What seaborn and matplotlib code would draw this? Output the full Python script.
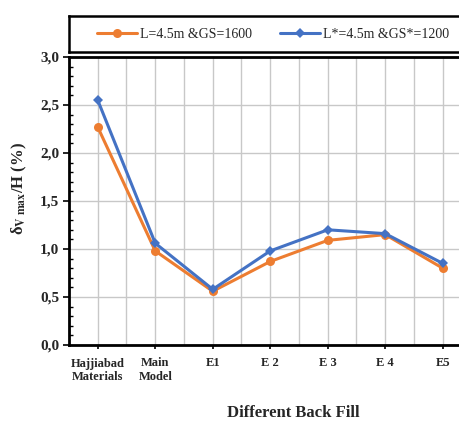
import matplotlib
matplotlib.use("Agg")
import matplotlib.pyplot as plt
from matplotlib.ticker import FuncFormatter, MultipleLocator
import numpy as np
import pandas as pd
import seaborn as sns

# chart data
categories = ["Hajjiabad\nMaterials", "Main\nModel", "E1", "E 2", "E 3", "E 4", "E5"]
series_names = ["L=4.5m &GS=1600", "L*=4.5m &GS*=1200"]
orange_values = [2.27, 0.98, 0.56, 0.87, 1.09, 1.15, 0.80]
blue_values = [2.55, 1.06, 0.58, 0.98, 1.20, 1.16, 0.85]

ORANGE = "#ED7D31"
BLUE = "#4472C4"

positions = np.arange(len(categories))
plot_df = pd.concat(
    [
        pd.DataFrame({"pos": positions, "value": orange_values, "series": series_names[0]}),
        pd.DataFrame({"pos": positions, "value": blue_values, "series": series_names[1]}),
    ],
    ignore_index=True,
)

sns.set_theme(style="white")
plt.rcParams["font.family"] = ["Liberation Serif", "DejaVu Serif"]
plt.rcParams["mathtext.fontset"] = "stix"

fig = plt.figure(figsize=(4.6, 4.22), dpi=100)
ax = fig.add_axes([69 / 460, 1 - 345 / 422, 402.5 / 460, 288 / 422])

sns.lineplot(
    data=plot_df,
    x="pos",
    y="value",
    hue="series",
    style="series",
    markers={series_names[0]: "o", series_names[1]: "D"},
    dashes=False,
    palette={series_names[0]: ORANGE, series_names[1]: BLUE},
    linewidth=2.2,
    markersize=6.5,
    markeredgewidth=0,
    ax=ax,
    legend=False,
)
# blue diamonds a bit smaller
for line in ax.lines:
    if line.get_marker() == "D":
        line.set_markersize(5.5)

ax.set_xlim(-0.5, len(categories) - 0.5)
ax.set_ylim(0, 3.0)
ax.set_xticks(positions)
ax.set_xticklabels(categories, fontsize=9, fontweight="bold", linespacing=1.2)
ax.xaxis.set_minor_locator(MultipleLocator(0.5))
ax.yaxis.set_major_locator(MultipleLocator(0.5))
ax.yaxis.set_minor_locator(MultipleLocator(0.1))
ax.yaxis.set_major_formatter(FuncFormatter(lambda v, _: f"{v:.1f}".replace(".", ",")))
for lab in ax.get_yticklabels():
    lab.set_fontweight("bold")
    lab.set_fontsize(11)

ax.grid(True, which="major", axis="both", color="#c8c8c8", linewidth=1)
ax.grid(True, which="minor", axis="x", color="#c8c8c8", linewidth=1)
ax.set_axisbelow(True)

ax.tick_params(axis="x", which="major", direction="out", length=3, width=1.2, color="black", pad=6)
ax.tick_params(axis="x", which="minor", length=0)
ax.tick_params(axis="y", which="major", direction="out", length=4, width=1.2, color="black", pad=3)
ax.tick_params(axis="y", which="minor", direction="in", length=3, width=1, color="black")
ax.tick_params(left=True, bottom=True, which="both")

for side in ["left", "bottom", "top"]:
    ax.spines[side].set_color("black")
    ax.spines[side].set_linewidth(2)
ax.spines["right"].set_visible(False)

ax.set_xlabel("Different Back Fill", fontsize=12, fontweight="bold")
ax.xaxis.set_label_coords((293 - 69) / 402.5, -0.21)
ax.set_ylabel(r"δ$_{\mathbf{V\ max}}$/H (%)", fontsize=12, fontweight="bold")
ax.yaxis.set_label_coords((29 - 69) / 402.5, 0.545)

# legend box above the plot
leg_ax = fig.add_axes([69 / 460, 1 - 52 / 422, 402.5 / 460, 36 / 422])
leg_ax.set_xticks([])
leg_ax.set_yticks([])
for side in leg_ax.spines.values():
    side.set_color("black")
    side.set_linewidth(1.8)
handles = [
    plt.Line2D([], [], color=ORANGE, marker="o", markersize=6.5, linewidth=2.2, markeredgewidth=0),
    plt.Line2D([], [], color=BLUE, marker="D", markersize=5.5, linewidth=2.2, markeredgewidth=0),
]
leg_ax.legend(
    handles,
    series_names,
    loc="center",
    bbox_to_anchor=((273 - 69) / 402.5, 0.5),
    ncol=2,
    frameon=False,
    fontsize=10,
    handlelength=2.9,
    handletextpad=0.2,
    columnspacing=2.0,
)

fig.savefig("out.png", dpi=100)
